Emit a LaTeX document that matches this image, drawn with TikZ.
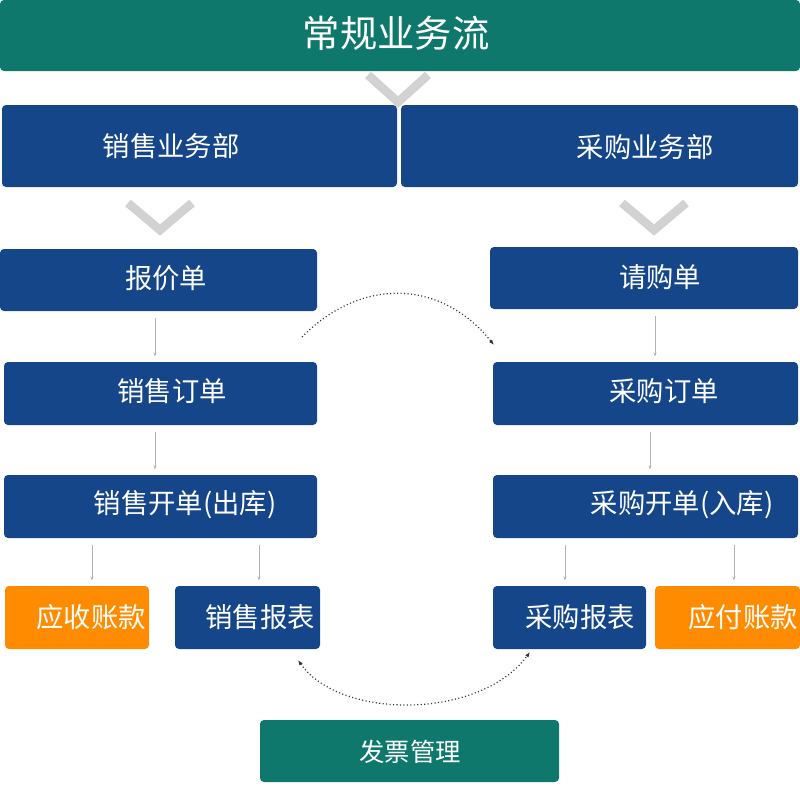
\documentclass[tikz,border=0pt]{standalone}
\usepackage{fontspec}
\setmainfont{Noto Sans CJK SC}
\usepackage{tikz}
\usetikzlibrary{arrows.meta}
\definecolor{flowteal}{HTML}{0F786C}
\definecolor{deptblue}{HTML}{15468A}
\definecolor{accorange}{HTML}{FF8C00}
\definecolor{chevgray}{HTML}{D2D2D2}
\definecolor{linkgray}{HTML}{B4B4B4}
\newcommand{\pxu}{0.75pt}
\tikzset{
  panel/.style={rounded corners=3pt, inner sep=0pt, draw=none},
  tealbox/.style={panel, fill=flowteal},
  bluebox/.style={panel, fill=deptblue},
  orangebox/.style={panel, fill=accorange},
  lab/.style={text=white, inner sep=0pt, font=\fontsize{20.5}{24}\selectfont},
  flow/.style={draw=linkgray, line width=0.5pt, -{Stealth[length=3pt,width=2.4pt]}, shorten <=5pt, shorten >=4pt},
  chev/.style={draw=chevgray, line width=6.5pt},
  dotarc/.style={draw=black!80, line width=0.9pt, dash pattern=on 0.8pt off 1.8pt},
}
\begin{document}
\begin{tikzpicture}[x=\pxu, y=-\pxu]
  \useasboundingbox (0,0) rectangle (800,800);

  \draw[chev] (368,75) -- (398,102) -- (428,75);
  \draw[chev] (128,203) -- (160,230) -- (192,203);
  \draw[chev] (622,203) -- (654,230) -- (686,203);

  \node[tealbox, minimum width=800*\pxu, minimum height=71*\pxu] (flow) at (400,35.5) {};
  \node[lab, font=\fontsize{28}{32}\selectfont] (flow-t) at (396,33) {常规业务流};

  \node[bluebox, minimum width=395*\pxu, minimum height=82*\pxu] (xsb) at (199.5,146) {};
  \node[lab] (xsb-t) at (171,146) {销售业务部};
  \node[bluebox, minimum width=397*\pxu, minimum height=82*\pxu] (cgb) at (599.5,146) {};
  \node[lab] (cgb-t) at (645,147) {采购业务部};

  \node[bluebox, minimum width=317*\pxu, minimum height=62*\pxu] (bjd) at (158.5,280) {};
  \node[lab] (bjd-t) at (166,278) {报价单};
  \node[bluebox, minimum width=308*\pxu, minimum height=62*\pxu] (qgd) at (644,278) {};
  \node[lab] (qgd-t) at (660,277) {请购单};

  \node[bluebox, minimum width=313*\pxu, minimum height=63*\pxu] (xsdd) at (160.5,393.5) {};
  \node[lab] (xsdd-t) at (172,391) {销售订单};
  \node[bluebox, minimum width=305*\pxu, minimum height=63*\pxu] (cgdd) at (645.5,393.5) {};
  \node[lab] (cgdd-t) at (664,391) {采购订单};

  \node[bluebox, minimum width=313*\pxu, minimum height=63*\pxu] (xskd) at (160.5,506.5) {};
  \node[lab] (xskd-t) at (185,505) {销售开单(出库)};
  \node[bluebox, minimum width=305*\pxu, minimum height=63*\pxu] (cgkd) at (645.5,506.5) {};
  \node[lab] (cgkd-t) at (682,505) {采购开单(入库)};

  \node[orangebox, minimum width=144*\pxu, minimum height=63*\pxu] (ysk) at (77,617.5) {};
  \node[lab] (ysk-t) at (91,617) {应收账款};
  \node[bluebox, minimum width=145*\pxu, minimum height=63*\pxu] (xsbb) at (247.5,617.5) {};
  \node[lab] (xsbb-t) at (260,617) {销售报表};
  \node[bluebox, minimum width=153*\pxu, minimum height=63*\pxu] (cgbb) at (569.5,617.5) {};
  \node[lab] (cgbb-t) at (580,617) {采购报表};
  \node[orangebox, minimum width=145*\pxu, minimum height=63*\pxu] (yfk) at (727.5,617.5) {};
  \node[lab] (yfk-t) at (743,617) {应付账款};

  \node[tealbox, minimum width=299*\pxu, minimum height=62*\pxu] (fpgl) at (409.5,751) {};
  \node[lab, font=\fontsize{19}{22}\selectfont] (fpgl-t) at (410,752) {发票管理};

  \draw[flow] ([xshift=-3.5*\pxu]bjd.south) -- ([xshift=-5.5*\pxu]xsdd.north);
  \draw[flow] ([xshift=11*\pxu]qgd.south) -- ([xshift=9.5*\pxu]cgdd.north);
  \draw[flow] ([xshift=-5.5*\pxu]xsdd.south) -- ([xshift=-5.5*\pxu]xskd.north);
  \draw[flow] ([xshift=4.5*\pxu]cgdd.south) -- ([xshift=4.5*\pxu]cgkd.north);
  \draw[flow] ([xshift=-68.5*\pxu]xskd.south) -- ([xshift=15*\pxu]ysk.north);
  \draw[flow] ([xshift=98.5*\pxu]xskd.south) -- ([xshift=11.5*\pxu]xsbb.north);
  \draw[flow] ([xshift=-80.5*\pxu]cgkd.south) -- ([xshift=-4.5*\pxu]cgbb.north);
  \draw[flow] ([xshift=88.5*\pxu]cgkd.south) -- ([xshift=6.5*\pxu]yfk.north);

  \coordinate (qa) at (302,337);
  \coordinate (qb) at (494,345);
  \coordinate (fa) at (298,660);
  \coordinate (fb) at (530,652);
  \draw[dotarc, -{Latex[length=4pt,width=3pt]}] (qa) .. controls (360,278) and (440,278) .. (qb);
  \draw[dotarc, {Latex[length=4pt,width=3pt]}-{Latex[length=4pt,width=3pt]}] (fa) .. controls (340,720) and (480,720) .. (fb);
\end{tikzpicture}
\end{document}
